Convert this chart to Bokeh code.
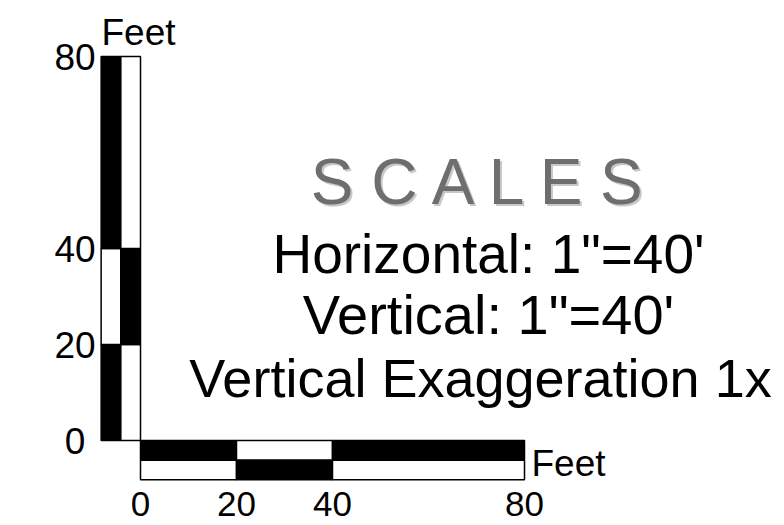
from bokeh.plotting import figure
from bokeh.models import Range1d
from bokeh.core.properties import value
from bokeh.embed import file_html
from bokeh.resources import INLINE

# ---- data ----
tick_values = [0, 20, 40, 80]
tick_labels = ["0", "20", "40", "80"]
seg_start = [0, 20, 40]
seg_end = [20, 40, 80]
row_a_colors = ["black", "white", "black"]
row_b_colors = ["white", "black", "white"]
unit_label = "Feet"
title_text = "S C A L E S"
info_lines = ['Horizontal: 1"=40\'', 'Vertical: 1"=40\'', 'Vertical Exaggeration 1x']

# ---- layout ----
W, H = 784, 525
S = 4.8            # pixels per foot
X0, Y0 = 140, 440  # pixel position of the 0/0 corner
BAR = 4.1          # thickness of one bar row in feet
FONT = value("Liberation Sans")
FIX = 0.37         # baseline correction (fraction of font size)


def fx(px):
    return (px - X0) / S


def fy(py):
    return (Y0 - py) / S


p = figure(width=W, height=H, output_backend="svg", toolbar_location=None,
           x_range=Range1d(fx(0), fx(W)), y_range=Range1d(fy(H), fy(0)),
           min_border=0, background_fill_color="white", border_fill_color="white",
           outline_line_color=None)
p.axis.visible = False
p.grid.visible = False

# horizontal scale bar (two rows)
p.quad(left=seg_start, right=seg_end, top=[0] * 3, bottom=[-BAR] * 3,
       fill_color=row_a_colors, line_color="black", line_width=1.5)
p.quad(left=seg_start, right=seg_end, top=[-BAR] * 3, bottom=[-2 * BAR] * 3,
       fill_color=row_b_colors, line_color="black", line_width=1.5)

# vertical scale bar (two columns)
p.quad(bottom=seg_start, top=seg_end, left=[-2 * BAR] * 3, right=[-BAR] * 3,
       fill_color=row_a_colors, line_color="black", line_width=1.5)
p.quad(bottom=seg_start, top=seg_end, left=[-BAR] * 3, right=[0] * 3,
       fill_color=row_b_colors, line_color="black", line_width=1.5)

# tick labels
p.text(x=[fx(74.5)] * 4, y=tick_values, text=tick_labels, text_font=FONT,
       text_font_size="37px", text_align="center", text_baseline="alphabetic",
       y_offset=14 - FIX * 37, text_color="black")
p.text(x=tick_values, y=[fy(516)] * 4, text=tick_labels, text_font=FONT,
       text_font_size="35px", text_align="center", text_baseline="alphabetic",
       y_offset=-FIX * 35, text_color="black")

# unit labels
p.text(x=[fx(101), fx(531)], y=[fy(46), fy(476.5)], text=[unit_label, unit_label],
       text_font=FONT, text_font_size="37px", text_align="left",
       text_baseline="alphabetic", y_offset=-FIX * 37, text_color="black")

# title with shadow
p.text(x=[fx(481)], y=[fy(205)], text=[title_text], text_font=FONT,
       text_font_size="64px", text_align="center", text_baseline="alphabetic",
       x_offset=2, y_offset=2 - FIX * 64, text_color="#c8c8c8")
p.text(x=[fx(481)], y=[fy(205)], text=[title_text], text_font=FONT,
       text_font_size="64px", text_align="center", text_baseline="alphabetic",
       y_offset=-FIX * 64, text_color="#6e6e6e")

# info lines
for txt, cx, base, fs in zip(info_lines, [488, 488, 480], [274, 335, 397], [55, 56, 54]):
    p.text(x=[fx(cx)], y=[fy(base)], text=[txt], text_font=FONT,
           text_font_size=f"{fs}px", text_align="center", text_baseline="alphabetic",
           y_offset=-FIX * fs, text_color="black")

open("out.html", "w").write(file_html(p, INLINE))
